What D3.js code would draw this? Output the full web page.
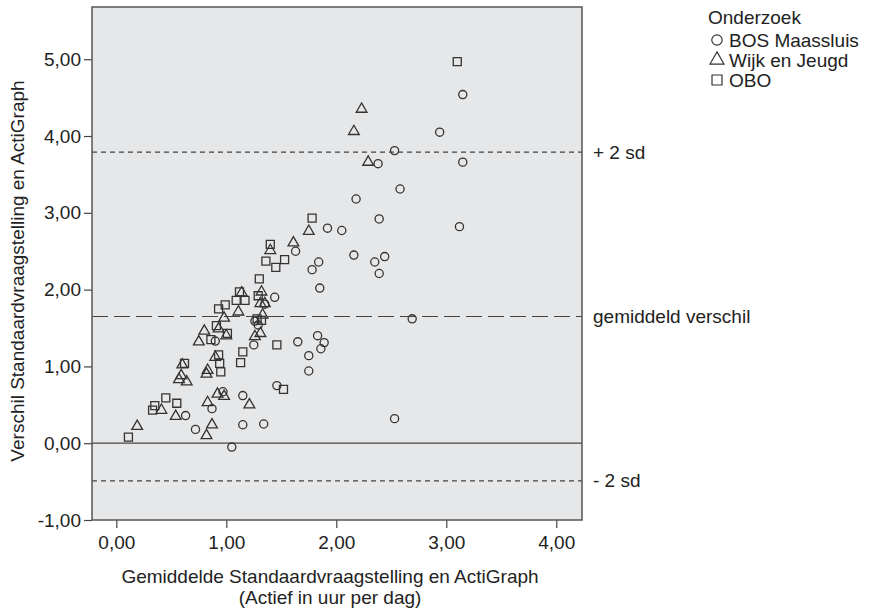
<!DOCTYPE html>
<html>
<head>
<meta charset="utf-8">
<script src="https://cdn.jsdelivr.net/npm/d3@7"></script>
<style>
  body { margin: 0; background: #fff; }
  svg text { font-family: "Liberation Sans", Arial, sans-serif; fill: #222; }
</style>
</head>
<body>
<div id="chart"></div>
<script>
// Bland-Altman: verschil tegen gemiddelde, per onderzoek
var bosMaassluis = [
  [0.63, 0.36], [0.72, 0.18], [0.87, 0.45], [0.90, 1.33], [0.97, 0.67],
  [1.05, -0.05], [1.15, 0.62], [1.15, 0.24], [1.25, 1.28], [1.34, 0.25],
  [1.26, 1.59], [1.29, 1.54], [1.35, 1.81], [1.44, 1.90], [1.46, 0.75],
  [1.63, 2.50], [1.65, 1.32], [1.75, 1.14], [1.75, 0.94], [1.78, 2.26],
  [1.83, 1.40], [1.89, 1.31], [1.86, 1.23], [1.84, 2.36], [1.85, 2.02],
  [1.92, 2.80], [2.05, 2.77], [2.16, 2.45], [2.18, 3.18], [2.35, 2.36],
  [2.44, 2.43], [2.39, 2.21], [2.38, 3.64], [2.39, 2.92], [2.53, 3.81],
  [2.53, 0.32], [2.58, 3.31], [2.69, 1.62], [2.94, 4.05], [3.12, 2.82],
  [3.15, 4.54], [3.15, 3.66]
]
var wijkEnJeugd = [
  [0.19, 0.22], [0.41, 0.43], [0.54, 0.35], [0.60, 1.02], [0.59, 0.88],
  [0.57, 0.83], [0.64, 0.80], [0.75, 1.32], [0.80, 1.46], [0.83, 0.95],
  [0.82, 0.90], [0.83, 0.53], [0.87, 0.24], [0.82, 0.10], [0.90, 1.12],
  [0.92, 0.64], [0.98, 0.61], [0.93, 1.49], [0.98, 1.63], [1.00, 1.40],
  [1.11, 1.71], [1.14, 1.96], [1.21, 0.50], [1.26, 1.39], [1.31, 1.43],
  [1.32, 1.97], [1.31, 1.82], [1.35, 1.82], [1.33, 1.67], [1.40, 2.51],
  [1.61, 2.61], [1.75, 2.76], [2.16, 4.06], [2.23, 4.35], [2.29, 3.66]
]
var obo = [
  [0.11, 0.08], [0.33, 0.43], [0.35, 0.49], [0.45, 0.59], [0.55, 0.52],
  [0.62, 1.04], [0.86, 1.35], [0.91, 1.53], [0.93, 1.75], [0.99, 1.80],
  [0.93, 1.15], [0.94, 1.04], [0.95, 0.93], [1.01, 1.43], [1.09, 1.86],
  [1.17, 1.86], [1.12, 1.97], [1.13, 1.05], [1.15, 1.19], [1.29, 1.92],
  [1.30, 2.14], [1.28, 1.62], [1.32, 1.60], [1.36, 2.37], [1.45, 2.29],
  [1.53, 2.39], [1.40, 2.59], [1.46, 1.28], [1.52, 0.70], [1.78, 2.93],
  [3.10, 4.97]
]
var xTicks = [0, 1, 2, 3, 4]
var yTicks = [-1, 0, 1, 2, 3, 4, 5]
// gemiddeld verschil en grenzen (+/- 2 sd)
var refValues = [3.79, 1.65, -0.49]
var refLabels = ['+ 2 sd', 'gemiddeld verschil', '- 2 sd']
var groupNames = ['BOS Maassluis', 'Wijk en Jeugd', 'OBO']

var width = 872, height = 611
var plot = { left: 92, right: 582, top: 7, bottom: 520 }

var svg = d3.select('#chart')
  .append('svg')
  .attr('width', width)
  .attr('height', height)

var x = d3.scaleLinear()
  .domain([-0.221, 4.234])
  .range([plot.left, plot.right])
var y = d3.scaleLinear()
  .domain([-1, 5.68])
  .range([plot.bottom, plot.top])

// komma als decimaalteken, gewoon streepje als minteken
var fmt = function (v) {
  return d3.format('.2f')(v).replace('.', ',').replace('\u2212', '-')
}

// achtergrond van plotgebied
svg.append('rect')
  .attr('x', plot.left)
  .attr('y', plot.top)
  .attr('width', plot.right - plot.left)
  .attr('height', plot.bottom - plot.top)
  .attr('fill', '#e6e7e9')

// x-as (los onder het kader)
var xAxis = svg.append('g')
  .attr('transform', 'translate(0,' + plot.bottom + ')')
  .call(d3.axisBottom(x).tickValues(xTicks).tickFormat(fmt).tickSize(8).tickPadding(8))
xAxis.select('.domain').remove()
xAxis.selectAll('line').attr('stroke', '#444').attr('stroke-width', 1.2)
xAxis.selectAll('text').attr('font-size', 19).attr('fill', '#222')

// y-as
var yAxis = svg.append('g')
  .attr('transform', 'translate(' + plot.left + ',0)')
  .call(d3.axisLeft(y).tickValues(yTicks).tickFormat(fmt).tickSize(8).tickPadding(3))
yAxis.select('.domain').remove()
yAxis.selectAll('line').attr('stroke', '#444').attr('stroke-width', 1.2)
yAxis.selectAll('text').attr('font-size', 19).attr('fill', '#222')

// nul-lijn
svg.append('line')
  .attr('x1', plot.left).attr('x2', plot.right)
  .attr('y1', y(0)).attr('y2', y(0))
  .attr('stroke', '#444')
  .attr('stroke-width', 1.2)

// referentielijnen
var dashes = ['5,4', '16,6', '5,4']
refValues.forEach(function (v, i) {
  svg.append('line')
    .attr('x1', plot.left).attr('x2', plot.right)
    .attr('y1', y(v)).attr('y2', y(v))
    .attr('stroke', '#444')
    .attr('stroke-width', 1.2)
    .attr('stroke-dasharray', dashes[i])
  svg.append('text')
    .attr('x', plot.right + 11)
    .attr('y', y(v))
    .attr('dy', '0.35em')
    .attr('font-size', 19)
    .text(refLabels[i])
})

// markers
var symbols = [d3.symbolCircle, d3.symbolTriangle, d3.symbolSquare]
var sizes = [52, 50, 64]
var groups = [bosMaassluis, wijkEnJeugd, obo]
var pts = svg.append('g').attr('class', 'points')
groups.forEach(function (data, i) {
  pts.selectAll('.pt' + i)
    .data(data)
    .enter()
    .append('path')
    .classed('pt' + i, true)
    .attr('d', d3.symbol().type(symbols[i]).size(sizes[i]))
    .attr('transform', function (d) {
      return 'translate(' + x(d[0]) + ',' + y(d[1]) + ')'
    })
    .attr('fill', 'none')
    .attr('stroke', '#333')
    .attr('stroke-width', 1.3)
})

// kader
svg.append('rect')
  .attr('x', plot.left)
  .attr('y', plot.top)
  .attr('width', plot.right - plot.left)
  .attr('height', plot.bottom - plot.top)
  .attr('fill', 'none')
  .attr('stroke', '#555')
  .attr('stroke-width', 1.5)

// astitels
svg.append('text')
  .attr('x', 330)
  .attr('y', 583)
  .attr('text-anchor', 'middle')
  .attr('font-size', 19)
  .text('Gemiddelde Standaardvraagstelling en ActiGraph')
svg.append('text')
  .attr('x', 330)
  .attr('y', 604)
  .attr('text-anchor', 'middle')
  .attr('font-size', 19)
  .text('(Actief in uur per dag)')
svg.append('text')
  .attr('transform', 'translate(24,271) rotate(-90)')
  .attr('text-anchor', 'middle')
  .attr('font-size', 19)
  .text('Verschil Standaardvraagstelling en ActiGraph')

// legenda
var legend = svg.append('g').attr('transform', 'translate(708,0)')
legend.append('text')
  .attr('x', 0)
  .attr('y', 17)
  .attr('dy', '0.35em')
  .attr('font-size', 19)
  .text('Onderzoek')
var legendSizes = [85, 85, 100]
groupNames.forEach(function (name, i) {
  var yy = 40 + i * 20
  legend.append('path')
    .attr('d', d3.symbol().type(symbols[i]).size(legendSizes[i]))
    .attr('transform', 'translate(9,' + yy + ')')
    .attr('fill', 'none')
    .attr('stroke', '#333')
    .attr('stroke-width', 1.2)
  legend.append('text')
    .attr('x', 21)
    .attr('y', yy)
    .attr('dy', '0.35em')
    .attr('font-size', 19)
    .text(name)
})
</script>
</body>
</html>
